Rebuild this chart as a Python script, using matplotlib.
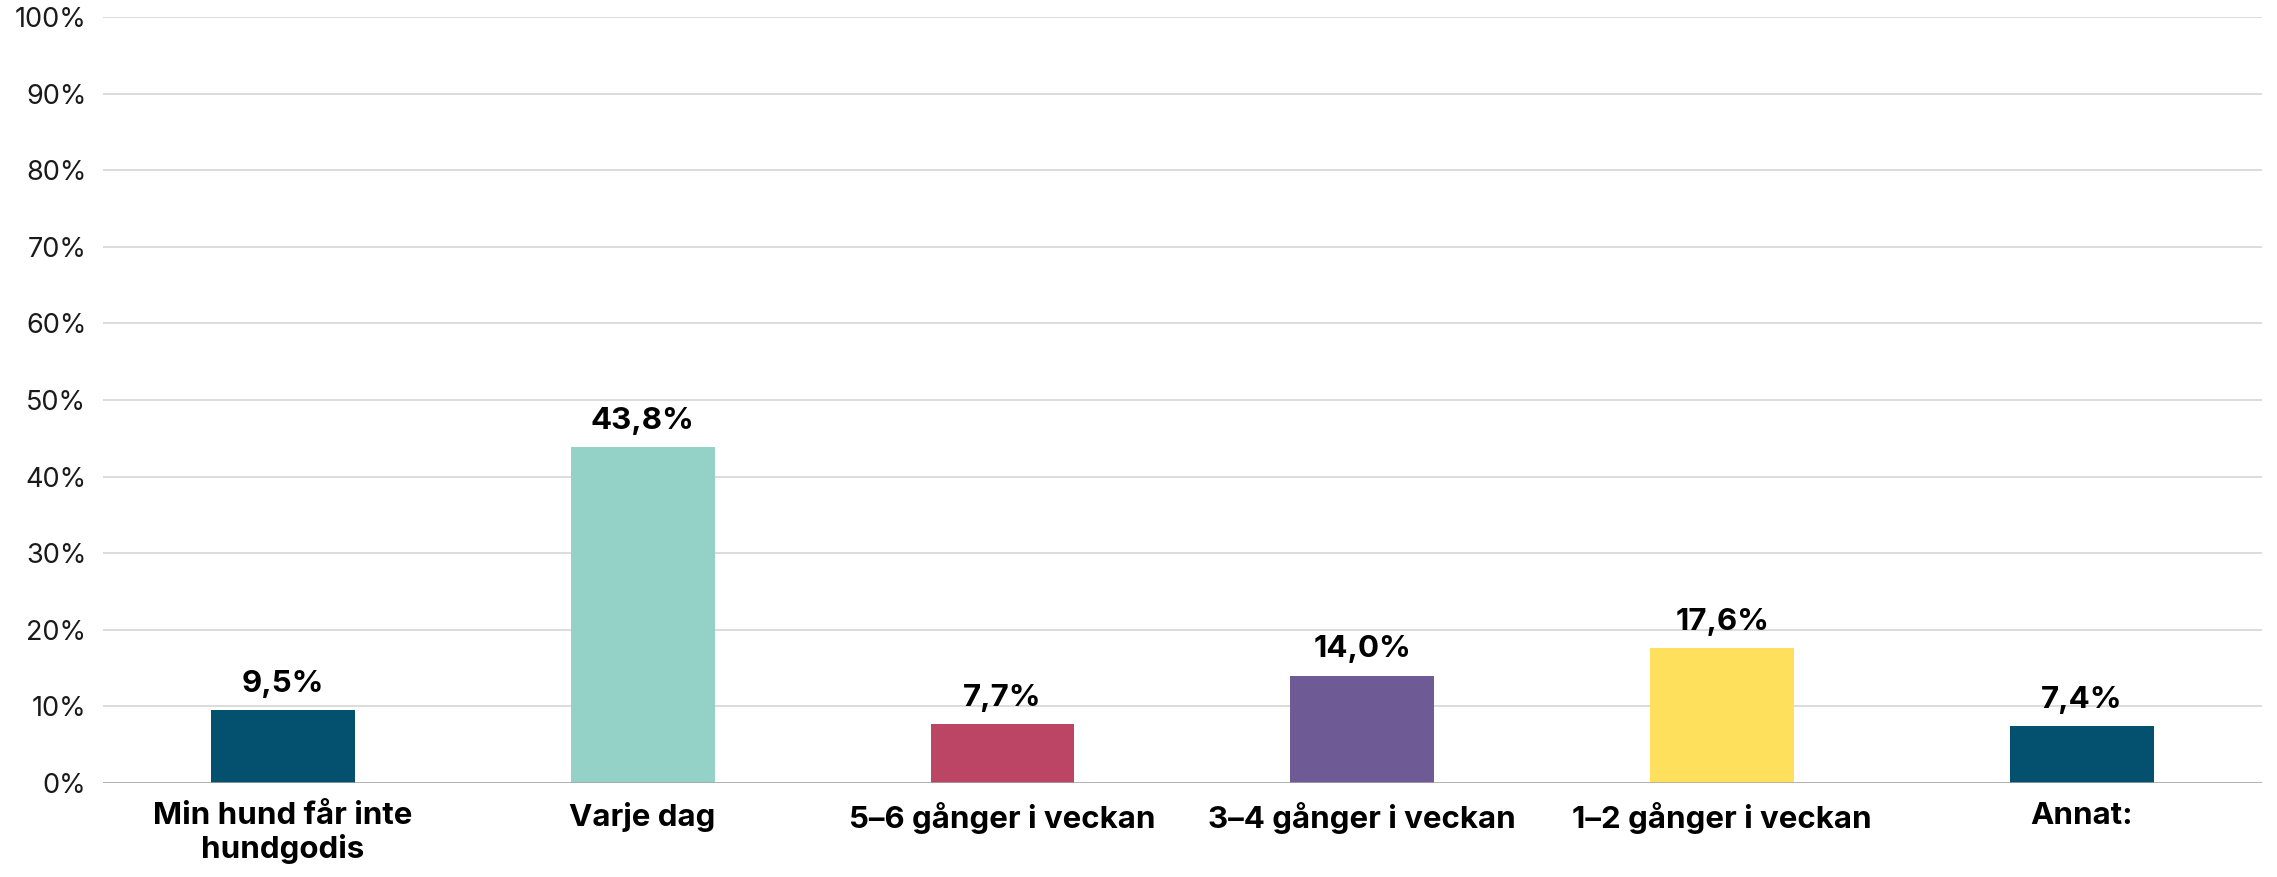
import matplotlib
matplotlib.use("Agg")
import matplotlib.pyplot as plt
from matplotlib.ticker import FuncFormatter

categories = ["Min hund får inte\nhundgodis", "Varje dag", "5–6 gånger i veckan",
              "3–4 gånger i veckan", "1–2 gånger i veckan", "Annat:"]
values = [9.5, 43.8, 7.7, 14.0, 17.6, 7.4]
colors = ["#03516F", "#94D1C7", "#BC4566", "#6E5B96", "#FFE05C", "#03516F"]

plt.rcParams["font.family"] = ["Inter", "DejaVu Sans"]

fig = plt.figure(figsize=(22.77, 8.77), dpi=100)
ax = fig.add_axes([0.0452, 0.1072, 0.9482, 0.8734])

x = range(len(categories))
bars = ax.bar(x, values, width=0.4, color=colors, zorder=3)

for b, v in zip(bars, values):
    label = f"{v:.1f}%".replace(".", ",")
    ax.annotate(label, (b.get_x() + b.get_width() / 2, v), xytext=(0, 9),
                textcoords="offset points", ha="center", va="bottom",
                fontsize=22.5, fontweight="bold", color="black")

ax.set_xlim(-0.5, len(categories) - 0.5)
ax.set_ylim(0, 100)
ax.set_yticks(range(0, 101, 10))
ax.yaxis.set_major_formatter(FuncFormatter(lambda v, _: f"{int(v)}%"))
ax.grid(axis="y", color="#D9D9D9", linewidth=1.3, zorder=0)
ax.axhline(0, color="#A6A6A6", linewidth=1.8, zorder=4)

for s in ax.spines.values():
    s.set_visible(False)

ax.set_xticks(list(x))
ax.set_xticklabels(categories, fontsize=22.5, fontweight="bold", linespacing=1.15)
ax.tick_params(axis="x", length=0, pad=14)
ax.tick_params(axis="y", length=0, pad=12, labelsize=19.5, labelcolor="#1a1a1a")

fig.savefig("out.png", dpi=100)
